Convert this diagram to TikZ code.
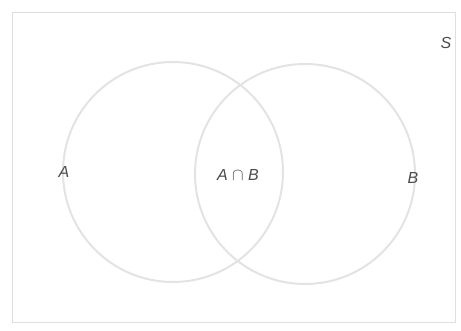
\documentclass[tikz,border=0pt]{standalone}
\usepackage{fontspec}
\setmainfont{Liberation Sans}
\begin{document}
\begin{tikzpicture}[
  x=1pt, y=-1pt,
  setcircle/.style={draw=gray!22, line width=2pt, circle, minimum size=220pt, inner sep=0pt},
  setlabel/.style={font=\fontsize{16}{16}\selectfont\itshape, text=black!70, inner sep=1pt},
  space/.style={draw=gray!25, line width=0.8pt},
]
\useasboundingbox (0,0) rectangle (461,331);

% Sample space S.
\draw[space] (12,12) rectangle (455,322);
\node[setlabel] (lblS) at (446,43) {S};

% The two events.
\node[setcircle] (setA) at (173,172) {};
\node[setcircle] (setB) at (305,174) {};

% Labels.
\node[setlabel] (lblA) at (64,172) {A};
\node[setlabel] (lblAB) at (238,175) {A $\cap$ B};
\node[setlabel] (lblB) at (413,178) {B};

\end{tikzpicture}
\end{document}
